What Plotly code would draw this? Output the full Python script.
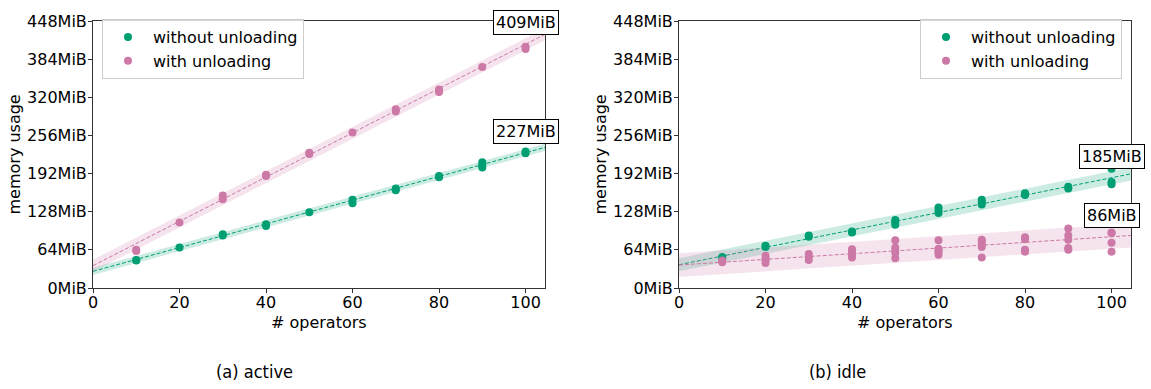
import plotly.graph_objects as go

# ---------------- data ----------------
operators = [10, 20, 30, 40, 50, 60, 70, 80, 90, 100]

# memory usage in MiB, several runs per operator count
active_without = [[46, 47], [68], [88, 90], [104, 107], [127], [142, 148],
                  [164, 167], [186, 188], [202, 206, 211], [226, 229]]
active_with = [[62, 64], [110], [149, 155], [188, 190], [225, 227], [261],
               [296, 300], [329, 333], [371], [401, 405]]
idle_without = [[50, 52], [69, 71], [86, 88], [93, 95], [106, 110, 114],
                [126, 130, 135], [140, 144, 148], [156, 159], [167, 170],
                [174, 178, 200]]
idle_with = [[43, 46], [42, 46, 50, 54], [47, 52, 57], [51, 56, 61, 65],
             [50, 59, 64, 68, 80], [56, 60, 63, 66, 80], [51, 69, 74, 78, 81],
             [61, 64, 82, 85], [64, 67, 81, 88, 100], [61, 76, 92, 93]]

# fitted trend: value at 0 and at 100 operators (MiB)
active_without_fit = [28, 227]
active_with_fit = [37.5, 409]
idle_without_fit = [39, 185]
idle_with_fit = [38.5, 86]

# half width of shaded band (MiB)
active_without_band = 6
active_with_band = 10
idle_without_band = 11
idle_with_band = 20

series_names = ["without unloading", "with unloading"]
panel_captions = ["(a) active", "(b) idle"]
y_ticks = [0, 64, 128, 192, 256, 320, 384, 448]
x_ticks = [0, 20, 40, 60, 80, 100]
x_max = 104.5

GREEN = "#009E73"
PINK = "#CC79A7"
GREEN_BAND = "rgba(0,158,115,0.2)"
PINK_BAND = "rgba(204,121,167,0.2)"
FONT = "DejaVu Sans"
FS = 16
AXIS_COLOR = "#333333"

fig = go.Figure()


def add_series(values, fit, band, color, band_color, name, xa, ya, legend):
    a, b = fit
    slope = (b - a) / 100.0
    xs_line = [0, x_max]
    ys_line = [a + slope * x for x in xs_line]
    # band
    fig.add_trace(go.Scatter(
        x=xs_line + xs_line[::-1],
        y=[y + band for y in ys_line] + [y - band for y in ys_line[::-1]],
        fill="toself", fillcolor=band_color, line=dict(width=0),
        mode="lines", hoverinfo="skip", showlegend=False,
        xaxis=xa, yaxis=ya))
    # trend line
    fig.add_trace(go.Scatter(
        x=xs_line, y=ys_line, mode="lines",
        line=dict(color=color, width=1, dash="4px,2px"),
        showlegend=False, hoverinfo="skip", xaxis=xa, yaxis=ya))
    return dict(values=values, color=color, name=name, xa=xa, ya=ya,
                legend=legend, label=b)


panels = [
    [add_series(active_without, active_without_fit, active_without_band, GREEN, GREEN_BAND,
                series_names[0], "x", "y", "legend"),
     add_series(active_with, active_with_fit, active_with_band, PINK, PINK_BAND,
                series_names[1], "x", "y", "legend")],
    [add_series(idle_without, idle_without_fit, idle_without_band, GREEN, GREEN_BAND,
                series_names[0], "x2", "y2", "legend2"),
     add_series(idle_with, idle_with_fit, idle_with_band, PINK, PINK_BAND,
                series_names[1], "x2", "y2", "legend2")],
]

annotations = []
for panel in panels:
    for s in panel:
        xs, ys = [], []
        for op, vals in zip(operators, s["values"]):
            for v in vals:
                xs.append(op)
                ys.append(v)
        fig.add_trace(go.Scatter(
            x=xs, y=ys, mode="markers", name=s["name"],
            marker=dict(color=s["color"], size=8, line=dict(width=0)),
            xaxis=s["xa"], yaxis=s["ya"], legend=s["legend"]))
        annotations.append(dict(
            x=100, y=s["label"], xref=s["xa"], yref=s["ya"],
            text=f"{s['label']:.0f}MiB", showarrow=False,
            yanchor="bottom", xanchor="center", yshift=9,
            bordercolor="black", borderwidth=1, borderpad=2, bgcolor="white",
            font=dict(family=FONT, size=FS, color="black")))

# axis titles & captions as annotations
L, R, T, B = 93, 20, 14, 101
W, H = 1151, 389
pw = W - L - R
ph = H - T - B
d1 = (545 - L) / pw
d2 = (679 - L) / pw


def px_x(px):
    return (px - L) / pw


def px_y(py):
    return (H - B - py) / ph


for cx in (319, 905):
    annotations.append(dict(x=px_x(cx), y=px_y(323), xref="paper", yref="paper",
                            text="# operators", showarrow=False,
                            font=dict(family=FONT, size=FS, color="black"),
                            xanchor="center", yanchor="middle"))
for cx in (14, 600):
    annotations.append(dict(x=px_x(cx), y=px_y(151), xref="paper", yref="paper",
                            text="memory usage", showarrow=False, textangle=-90,
                            font=dict(family=FONT, size=FS, color="black"),
                            xanchor="center", yanchor="middle"))
for cx, cap in zip((254, 837), panel_captions):
    annotations.append(dict(x=px_x(cx), y=px_y(374), xref="paper", yref="paper",
                            text=cap, showarrow=False,
                            font=dict(family="Liberation Sans Narrow, DejaVu Sans Condensed, Roboto",
                                      size=18, color="black"),
                            xanchor="center", yanchor="middle"))

axis_common = dict(showline=True, mirror=True, linecolor=AXIS_COLOR, linewidth=1,
                   ticks="outside", ticklen=4, tickwidth=1, tickcolor=AXIS_COLOR,
                   showgrid=False, zeroline=False,
                   tickfont=dict(family=FONT, size=FS, color="black"))

xaxis_cfg = dict(axis_common, range=[0, x_max], tickvals=x_ticks,
                 ticktext=[str(t) for t in x_ticks], ticklabelstandoff=-4)
yaxis_cfg = dict(axis_common, range=[0, 448], tickvals=y_ticks,
                 ticktext=[f"{t}MiB" for t in y_ticks], ticklabelstandoff=-2)

legend_common = dict(bgcolor="rgba(255,255,255,0.8)", bordercolor="#cccccc",
                     borderwidth=1, font=dict(family=FONT, size=FS, color="black"),
                     yanchor="top", y=px_y(12), itemwidth=40,
                     tracegroupgap=0)

fig.update_layout(
    width=W, height=H, autosize=False,
    margin=dict(l=L, r=R, t=T, b=B),
    paper_bgcolor="white", plot_bgcolor="white",
    xaxis=dict(xaxis_cfg, domain=[0, d1], anchor="y"),
    yaxis=dict(yaxis_cfg, anchor="x"),
    xaxis2=dict(xaxis_cfg, domain=[d2, 1], anchor="y2"),
    yaxis2=dict(yaxis_cfg, anchor="x2"),
    legend=dict(legend_common, x=px_x(102), xanchor="left"),
    legend2=dict(legend_common, x=px_x(1122), xanchor="right"),
    annotations=annotations,
    font=dict(family=FONT, color="black"),
)

fig.write_html("out.html")
